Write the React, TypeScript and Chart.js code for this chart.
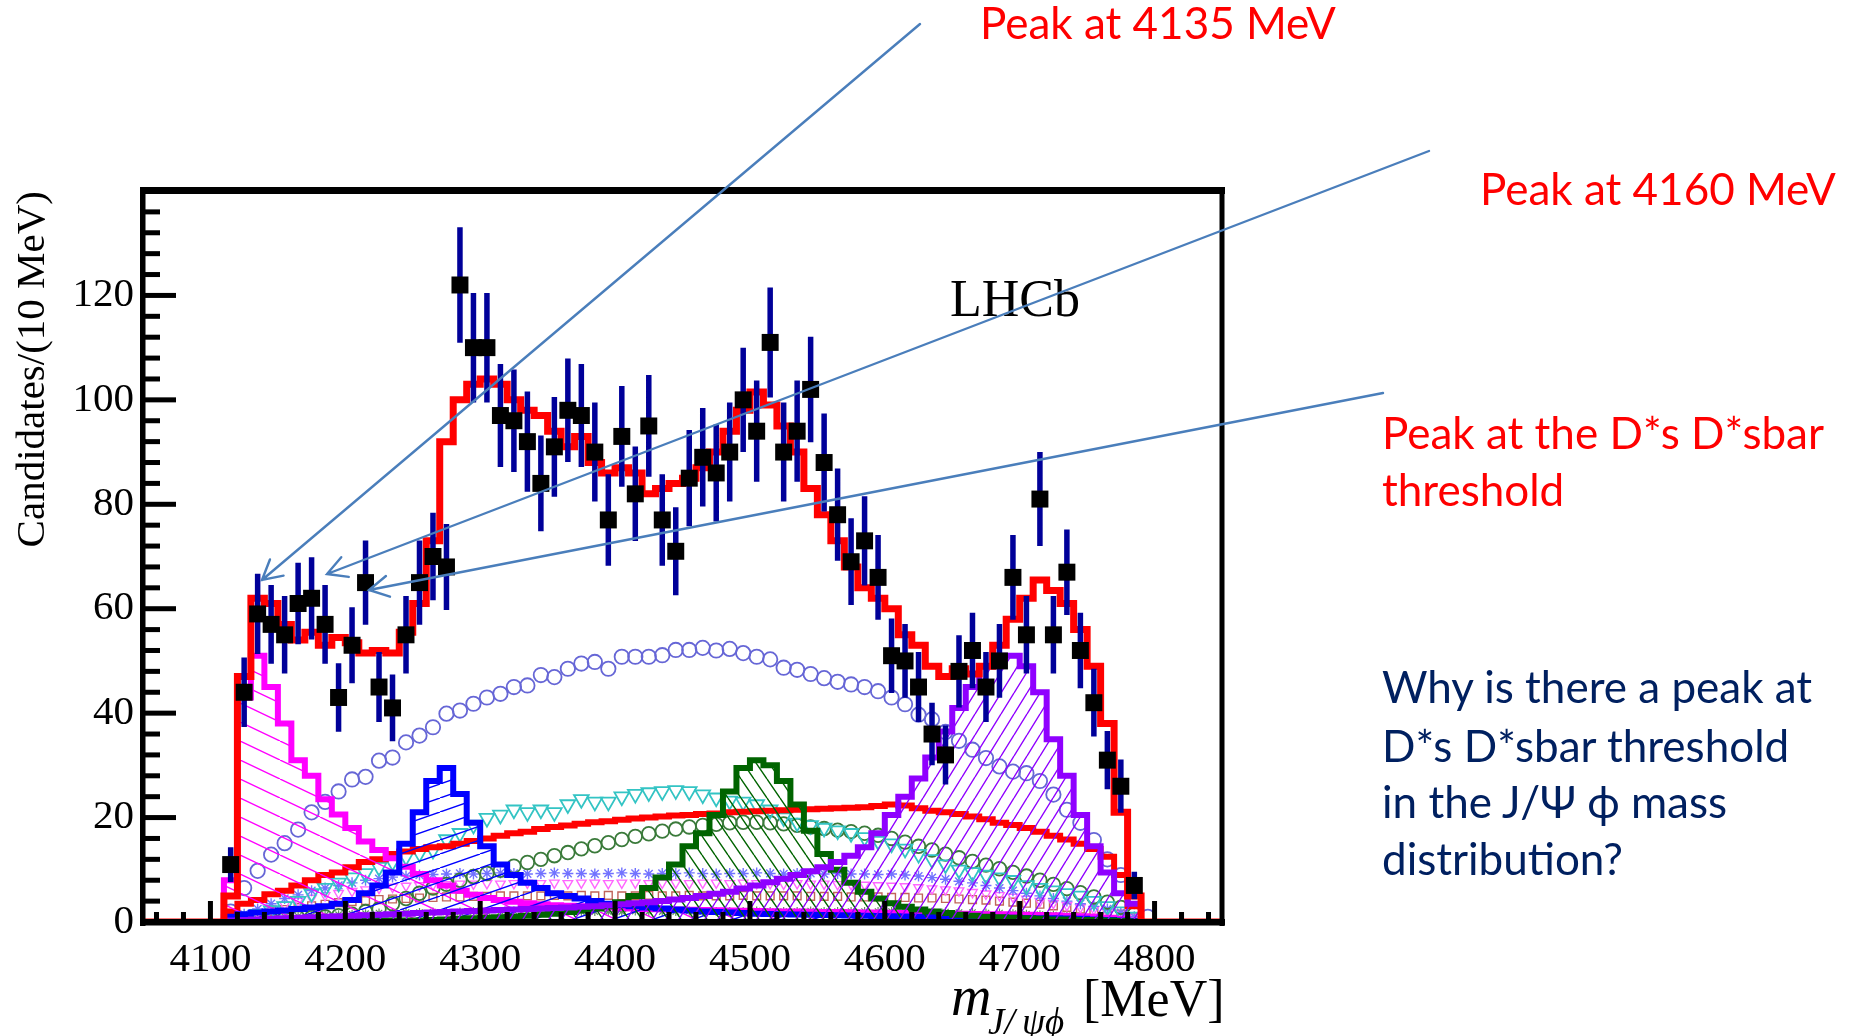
import React, { useEffect, useRef } from 'react';
import { Chart, registerables } from 'chart.js';

Chart.register(...registerables);

// ---------------- data (10 MeV bins) ----------------
const binCenters = [
  4105, 4115, 4125, 4135, 4145, 4155, 4165, 4175, 4185, 4195,
  4205, 4215, 4225, 4235, 4245, 4255, 4265, 4275, 4285, 4295,
  4305, 4315, 4325, 4335, 4345, 4355, 4365, 4375, 4385, 4395,
  4405, 4415, 4425, 4435, 4445, 4455, 4465, 4475, 4485, 4495,
  4505, 4515, 4525, 4535, 4545, 4555, 4565, 4575, 4585, 4595,
  4605, 4615, 4625, 4635, 4645, 4655, 4665, 4675, 4685, 4695,
  4705, 4715, 4725, 4735, 4745, 4755, 4765, 4775, 4785, 4795,
];

const dataCounts = [
  null, 11, 44, 59, 57, 55, 61, 62, 57, 43,
  53, 65, 45, 41, 55, 65, 70, 68, 122, 110,
  110, 97, 96, 92, 84, 91, 98, 97, 90, 77,
  93, 82, 95, 77, 71, 85, 89, 86, 90, 100,
  94, 111, 90, 94, 102, 88, 78, 69, 73, 66,
  51, 50, 45, 36, 32, 48, 52, 45, 50, 66,
  55, 81, 55, 67, 52, 42, 31, 26, 7, null,
];

const totalFit = [
  0, 5, 47, 62, 61, 57, 54, 55.5, 53, 54.5,
  53.5, 51.5, 52, 51.5, 55.5, 61, 73, 92, 100, 103,
  104, 103, 100, 98, 97, 94, 91, 93, 88, 86,
  87, 86, 82, 83, 84, 85, 87, 90, 94, 98,
  101.5, 99, 95, 90, 83, 78, 73, 68, 64, 62,
  60, 55, 53, 49, 47, 48.5, 47.5, 49, 53, 58,
  62, 65.5, 63.5, 61, 56, 49, 38, 21, 5, 0,
];

const x4140 = [
  0, 8, 43, 51, 45, 38, 31, 28, 23.5, 20.6,
  18, 15.4, 13.8, 12.2, 10.6, 9.2, 8, 7, 6, 5.2,
  4.6, 4.2, 3.9, 3.6, 3.4, 3.2, 3.1, 3, 2.9, 2.8,
  2.7, 2.6, 2.5, 2.45, 2.4, 2.35, 2.3, 2.25, 2.2, 2.15,
  2.1, 2.05, 2, 2, 1.95, 1.9, 1.9, 1.85, 1.8, 1.8,
  1.75, 1.7, 1.7, 1.65, 1.6, 1.6, 1.55, 1.5, 1.5, 1.45,
  1.4, 1.35, 1.3, 1.2, 1.1, 1, 0.8, 0.6, 0.3, 0,
];

const x4274 = [
  0, 1, 1.5, 1.8, 2, 2.2, 2.5, 2.8, 3, 3.5,
  4.2, 5.5, 7, 9.5, 15, 21, 27, 29.5, 24.5, 19,
  14.5, 11, 9, 7.5, 6.5, 5.5, 5, 4.5, 4, 3.5,
  3.2, 3, 2.8, 2.6, 2.4, 2.2, 2, 1.9, 1.8, 1.7,
  1.6, 1.55, 1.5, 1.45, 1.4, 1.35, 1.3, 1.25, 1.2, 1.15,
  1.1, 1.05, 1, 1, 0.95, 0.9, 0.9, 0.85, 0.8, 0.8,
  0.75, 0.7, 0.7, 0.65, 0.6, 0.5, 0.4, 0.3, 0.2, 0,
];

const x4500 = [
  0, 0.2, 0.2, 0.2, 0.2, 0.2, 0.2, 0.2, 0.2, 0.2,
  0.3, 0.3, 0.3, 0.3, 0.3, 0.3, 0.4, 0.5, 0.6, 0.7,
  0.8, 0.9, 1, 1.2, 1.4, 1.6, 1.9, 2.2, 2.6, 3,
  3.8, 5, 6.5, 8.5, 11, 14.5, 17, 20.5, 25, 29.5,
  31, 30, 27, 22.5, 17.5, 13, 10, 7.5, 5.8, 4.5,
  3.6, 2.9, 2.4, 2, 1.7, 1.4, 1.2, 1, 0.9, 0.8,
  0.7, 0.6, 0.5, 0.5, 0.4, 0.4, 0.3, 0.2, 0.1, 0,
];

const x4700 = [
  0, 0.3, 0.4, 0.5, 0.6, 0.7, 0.8, 0.9, 1, 1.1,
  1.2, 1.3, 1.4, 1.5, 1.6, 1.7, 1.8, 1.9, 2, 2.1,
  2.2, 2.3, 2.4, 2.5, 2.6, 2.7, 2.8, 2.9, 3, 3.2,
  3.4, 3.6, 3.8, 4, 4.3, 4.6, 5, 5.4, 5.8, 6.4,
  7, 7.6, 8.3, 9, 9.7, 10.5, 11.5, 12.7, 14.3, 17,
  20.5, 24, 27.5, 31.5, 36.5, 41, 45, 49, 51, 51,
  49, 44, 35, 28, 20.5, 14.5, 9.5, 5.5, 3.5, 0,
];

const redComponent = [
  0, 2, 3.5, 4.2, 5.3, 6, 7, 8, 9, 9.5,
  10.5, 11.5, 12, 13, 13.5, 14, 14.3, 14.5, 15, 15.5,
  16, 16.5, 17, 17.3, 17.8, 18.2, 18.5, 18.8, 19.1, 19.3,
  19.6, 19.8, 20, 20.2, 20.4, 20.5, 20.7, 20.8, 21, 21.1,
  21.2, 21.3, 21.4, 21.5, 21.6, 21.7, 21.8, 21.9, 22, 22.2,
  22.5, 22.3, 21.8, 21.3, 21, 20.7, 20.2, 19.7, 19, 18.6,
  18, 17.3, 16.5, 15.8, 15, 14, 12.5, 9, 3, 0,
];

const nonResonant = [
  null, 2, 6.5, 9.8, 12.9, 15.1, 17.7, 21, 23, 25,
  27.3, 27.8, 30.9, 31.5, 34.4, 35.7, 37.3, 39.9, 40.5, 41.8,
  43, 43.7, 45, 45.3, 47.3, 46.9, 48.5, 49.5, 49.8, 48.5,
  50.8, 50.8, 50.8, 51.1, 52.1, 52.1, 52.5, 52, 52.3, 51.5,
  50.8, 50.3, 48.7, 48.3, 47.5, 46.7, 46, 45.5, 45, 44.2,
  43, 41.7, 39.7, 38.8, 36.4, 34.7, 33, 31.4, 29.8, 28.8,
  28.5, 27, 24.4, 21.5, 19, 15.7, 12, 9, 4, 1,
];

const cyanTriangles = [
  null, 0.5, 1, 1.5, 2.2, 3, 4, 5.5, 6.5, 7.5,
  8.5, 9.3, 10.5, 11.5, 12.5, 13.2, 13.8, 15.8, 17, 18.6,
  19.9, 20.5, 21.5, 21, 21.5, 21, 22.5, 23.5, 23, 23,
  24, 24.5, 24.8, 25, 25.2, 25, 24.4, 23.8, 23.2, 23,
  22.5, 21.5, 20, 19, 18.5, 18, 17.5, 17, 16.2, 15.5,
  15, 14, 13, 12, 11, 10, 9.5, 9, 8.5, 8,
  7, 6.5, 6, 5.5, 5, 4, 3, 2, 1, null,
];

const greenCircles = [
  null, 0.3, 0.4, 0.5, 0.6, 0.7, 0.8, 0.9, 1, 1.2,
  1.5, 2, 2.5, 3.5, 4.5, 5.5, 6.5, 7.2, 8, 8.7,
  9.3, 9.9, 10.7, 11.4, 12, 12.7, 13.3, 14, 14.6, 15.2,
  15.8, 16.4, 16.9, 17.4, 17.8, 18.2, 18.5, 18.7, 19, 19.1,
  19.1, 19, 18.8, 18.5, 18.2, 17.9, 17.6, 17.3, 17, 16.6,
  16, 15.3, 14.5, 13.8, 13, 12.3, 11.6, 10.9, 10.2, 9.5,
  8.8, 8, 7.2, 6.4, 5.6, 4.8, 3.8, 2.8, 1.5, null,
];

const lilacStars = [
  null, 0.5, 1.5, 2.5, 3.5, 4.5, 5.2, 6, 6.5, 7,
  7.5, 8, 8.3, 8.6, 8.8, 9, 9.1, 9.2, 9.3, 9.2,
  9.3, 9.4, 9.3, 9.2, 9.3, 9.4, 9.3, 9.3, 9.2, 9.3,
  9.4, 9.3, 9.2, 9.3, 9.3, 9.4, 9.3, 9.2, 9.3, 9.3,
  9.4, 9.3, 9.2, 9.3, 9.3, 9.2, 9.3, 9.2, 9.2, 9.1,
  9.2, 9, 8.8, 8.5, 8.2, 7.8, 7.5, 7, 6.5, 6,
  5.5, 5, 4.5, 4, 3.5, 3, 2.5, 1.8, 1, null,
];

const pinkTriangles = [
  null, 0.4, 1, 1.8, 2.6, 3.3, 4, 4.6, 5.1, 5.5,
  5.9, 6.2, 6.5, 6.7, 6.9, 7, 7.1, 7.2, 7.3, 7.3,
  7.4, 7.3, 7.4, 7.5, 7.4, 7.5, 7.4, 7.5, 7.5, 7.4,
  7.5, 7.5, 7.4, 7.5, 7.5, 7.4, 7.5, 7.5, 7.4, 7.5,
  7.4, 7.4, 7.3, 7.4, 7.3, 7.3, 7.2, 7.2, 7.1, 7,
  6.9, 6.8, 6.6, 6.4, 6.2, 6, 5.7, 5.4, 5.1, 4.8,
  4.4, 4, 3.6, 3.2, 2.8, 2.4, 2, 1.5, 0.8, null,
];

const brownSquares = [
  null, 0.5, 1, 1.5, 2, 2.4, 2.8, 3.1, 3.4, 3.7,
  3.9, 4.1, 4.3, 4.4, 4.5, 4.6, 4.7, 4.8, 4.8, 4.9,
  4.9, 5, 5, 5, 5, 5.1, 5, 5.1, 5, 5.1,
  5, 5, 5.1, 5, 5, 5.1, 5, 5, 5, 5.1,
  5, 5, 5, 5, 4.9, 4.9, 4.9, 4.8, 4.8, 4.8,
  4.7, 4.7, 4.6, 4.6, 4.5, 4.4, 4.3, 4.2, 4, 3.8,
  3.6, 3.4, 3.1, 2.8, 2.5, 2.2, 1.9, 1.5, 0.8, null,
];

const greyGreenStars = [
  null, 0.2, 0.4, 0.6, 0.8, 1, 1.1, 1.2, 1.3, 1.4,
  1.5, 1.6, 1.7, 1.7, 1.8, 1.8, 1.9, 1.9, 1.9, 2,
  2, 2, 2.1, 2, 2, 2, 2.1, 2, 2, 2,
  2, 2.1, 2, 2, 2, 2.1, 2, 2, 2, 2,
  2.1, 2, 2, 2, 2.1, 2, 2, 2, 2, 2,
  2, 2, 1.9, 1.9, 1.9, 1.8, 1.8, 1.7, 1.7, 1.6,
  1.5, 1.4, 1.3, 1.2, 1, 0.8, 0.6, 0.4, 0.2, null,
];

const xTickValues = [4100, 4200, 4300, 4400, 4500, 4600, 4700, 4800];
const yTickValues = [0, 20, 40, 60, 80, 100, 120];

// ---------------- layout / style constants ----------------
const W = 1849;
const H = 1036;
const AREA = { left: 143, top: 191, right: 1222, bottom: 922 };
const X_MIN = 4050;
const X_MAX = 4850;
const Y_MAX = 140;
const BIN_WIDTH = 10;
const SERIF = '"Liberation Serif", "Times New Roman", serif';
const SLIDE_FONT = 'Lato, "Open Sans", sans-serif';
const ARROW_COLOR = '#4a7ebb';

const slideLines = [
  { text: 'Peak at 4135 MeV', left: 980, baseline: 39, color: '#ff0000' },
  { text: 'Peak at 4160 MeV', left: 1480, baseline: 205, color: '#ff0000' },
  { text: 'Peak at the D*s D*sbar', left: 1382, baseline: 449, color: '#ff0000' },
  { text: 'threshold', left: 1382, baseline: 506, color: '#ff0000' },
  { text: 'Why is there a peak at', left: 1382, baseline: 703, color: '#002060' },
  { text: 'D*s D*sbar threshold', left: 1382, baseline: 762, color: '#002060' },
  { text: 'in the J/\u03A8 \u03D5 mass', left: 1382, baseline: 818, color: '#002060' },
  { text: 'distribution?', left: 1382, baseline: 875, color: '#002060' },
];
const SLIDE_SIZE = 44;

const arrows = [
  { x1: 920, y1: 24, x2: 262, y2: 580 },
  { x1: 1429, y1: 151, x2: 327, y2: 574 },
  { x1: 1383, y1: 393, x2: 369, y2: 590 },
];

// ---------------- helpers ----------------
function stepPoints(values: number[], pad = false) {
  const pts = values.map((v, i) => ({ x: binCenters[i] - BIN_WIDTH / 2, y: v }));
  pts.push({ x: binCenters[binCenters.length - 1] + BIN_WIDTH / 2, y: 0 });
  if (pad) {
    pts.unshift({ x: X_MIN, y: 0 });
    pts.push({ x: X_MAX, y: 0 });
  }
  return pts;
}

function markerPoints(values: (number | null)[]) {
  return values.map((v, i) => ({ x: binCenters[i], y: v }));
}

function hatch(color: string, w: number, h: number, rising: boolean, lw = 1.4) {
  const c = document.createElement('canvas');
  c.width = w;
  c.height = h;
  const g = c.getContext('2d')!;
  g.strokeStyle = color;
  g.lineWidth = lw;
  g.beginPath();
  for (const dx of [-w, 0, w]) {
    if (rising) {
      g.moveTo(dx, h);
      g.lineTo(dx + w, 0);
    } else {
      g.moveTo(dx, 0);
      g.lineTo(dx + w, h);
    }
  }
  g.stroke();
  return g.createPattern(c, 'repeat')!;
}

function histDataset(label: string, values: number[], color: string, width: number, fillPattern: any, pad = false) {
  return {
    label,
    data: stepPoints(values, pad),
    borderColor: color,
    borderWidth: width,
    stepped: 'before',
    pointRadius: 0,
    fill: fillPattern ? 'origin' : false,
    backgroundColor: fillPattern || 'rgba(0,0,0,0)',
    borderJoinStyle: 'miter',
  };
}

function markerDataset(label: string, values: (number | null)[], color: string, style: string, radius: number, rotation = 0, lw = 1.6) {
  return {
    label,
    data: markerPoints(values),
    showLine: false,
    pointStyle: style,
    pointRadius: radius,
    pointRotation: rotation,
    pointBorderColor: color,
    pointBackgroundColor: 'rgba(0,0,0,0)',
    pointBorderWidth: lw,
    borderColor: color,
    backgroundColor: 'rgba(0,0,0,0)',
  };
}

const overlayPlugin = {
  id: 'overlay',
  beforeDatasetDraw(chart: any, args: any) {
    if (args.index !== 0) return;
    const { ctx, chartArea } = chart;
    const xs = chart.scales.x;
    const ys = chart.scales.y;
    ctx.save();
    ctx.beginPath();
    ctx.rect(chartArea.left, chartArea.top, chartArea.right - chartArea.left, chartArea.bottom - chartArea.top);
    ctx.clip();
    ctx.strokeStyle = '#000099';
    ctx.lineWidth = 5.5;
    ctx.beginPath();
    dataCounts.forEach((n, i) => {
      if (n == null) return;
      const e = Math.sqrt(n);
      const px = xs.getPixelForValue(binCenters[i]);
      ctx.moveTo(px, ys.getPixelForValue(n - e));
      ctx.lineTo(px, ys.getPixelForValue(n + e));
    });
    ctx.stroke();
    ctx.restore();
  },
  afterDatasetsDraw(chart: any) {
    const { ctx, chartArea } = chart;
    const xs = chart.scales.x;
    const ys = chart.scales.y;
    const { left, right, top, bottom } = chartArea;
    ctx.save();
    ctx.fillStyle = '#000';
    // x ticks (inside, pointing up)
    for (let m = X_MIN + 10; m < X_MAX; m += 20) {
      const major = xTickValues.includes(m);
      const len = major ? 21 : 10;
      const px = xs.getPixelForValue(m);
      ctx.fillRect(px - 2.5, bottom - len, 5, len);
    }
    // y ticks (inside, pointing right)
    for (let v = 4; v < Y_MAX; v += 4) {
      const major = v % 20 === 0;
      const len = major ? 33 : 17;
      const py = ys.getPixelForValue(v);
      ctx.fillRect(left, py - 2.5, len, 5);
    }
    // frame
    ctx.fillRect(left - 3, top - 4, right - left + 6, 7);
    ctx.fillRect(left - 3, top - 4, 5.5, bottom - top + 8);
    ctx.fillRect(right - 2.5, top - 4, 5, bottom - top + 8);
    ctx.fillRect(left - 3, bottom - 3, right - left + 6, 6.5);
    ctx.restore();
  },
  afterDraw(chart: any) {
    const { ctx } = chart;
    ctx.save();
    ctx.fillStyle = '#000';
    ctx.textBaseline = 'alphabetic';
    ctx.textAlign = 'left';
    ctx.font = `52px ${SERIF}`;
    ctx.fillText('LHCb', 950, 316);
    // x axis title
    ctx.font = `italic 56px ${SERIF}`;
    ctx.fillText('m', 951, 1015);
    ctx.font = `italic 37px ${SERIF}`;
    ctx.fillText('J/\u2009\u03C8\u03D5', 988, 1034);
    ctx.font = `52px ${SERIF}`;
    ctx.fillText('[MeV]', 1083, 1016);
    // arrows
    ctx.strokeStyle = ARROW_COLOR;
    ctx.lineWidth = 2.4;
    ctx.lineCap = 'round';
    for (const a of arrows) {
      ctx.beginPath();
      ctx.moveTo(a.x1, a.y1);
      ctx.lineTo(a.x2, a.y2);
      const ang = Math.atan2(a.y1 - a.y2, a.x1 - a.x2);
      const hl = 22;
      const spread = 0.5;
      ctx.moveTo(a.x2 + hl * Math.cos(ang + spread), a.y2 + hl * Math.sin(ang + spread));
      ctx.lineTo(a.x2, a.y2);
      ctx.lineTo(a.x2 + hl * Math.cos(ang - spread), a.y2 + hl * Math.sin(ang - spread));
      ctx.stroke();
    }
    ctx.restore();
  },
};

export default function App() {
  const canvasRef = useRef<HTMLCanvasElement>(null);

  useEffect(() => {
    const canvas = canvasRef.current;
    if (!canvas) return;

    const magentaHatch = hatch('#ff00ff', 40, 19, false);
    const blueHatch = hatch('#0000ff', 40, 14, true);
    const greenHatch = hatch('#006400', 13, 19, false);
    const purpleHatch = hatch('#8f00ff', 13, 21, true);

    const datasets: any[] = [
      {
        label: 'Data',
        data: markerPoints(dataCounts),
        showLine: false,
        pointStyle: 'rect',
        pointRadius: 12,
        pointBackgroundColor: '#000',
        pointBorderWidth: 0,
        pointBorderColor: '#000',
        borderColor: '#000',
        backgroundColor: '#000',
      },
      histDataset('Total fit', totalFit, '#ff0000', 7, null, true),
      histDataset('X(4700)', x4700, '#8f00ff', 6, purpleHatch),
      histDataset('X(4500)', x4500, '#006400', 6, greenHatch),
      histDataset('X(4274)', x4274, '#0000ff', 6, blueHatch),
      histDataset('X(4140)', x4140, '#ff00ff', 6, magentaHatch),
      histDataset('Component', redComponent, '#ff0000', 6, null),
      markerDataset('NR', nonResonant, '#6666d6', 'circle', 7.2, 0, 1.8),
      markerDataset('Cyan', cyanTriangles, '#33c4c4', 'triangle', 8.5, 180, 1.8),
      markerDataset('Green circles', greenCircles, '#3a7a3a', 'circle', 6.8, 0, 1.8),
      markerDataset('Lilac', lilacStars, '#7272ff', 'star', 5.5, 0, 1.4),
      markerDataset('Pink', pinkTriangles, '#ff66ff', 'triangle', 5.5, 180, 1.4),
      markerDataset('Brown', brownSquares, '#c0645a', 'rect', 5.5, 0, 1.4),
      markerDataset('GreyGreen', greyGreenStars, '#5f8f5f', 'star', 4.5, 0, 1.2),
    ];

    const chart = new Chart(canvas, {
      type: 'line',
      data: { datasets },
      options: {
        animation: false,
        responsive: false,
        devicePixelRatio: 1,
        events: [],
        layout: { padding: { left: 0, top: AREA.top, right: W - AREA.right, bottom: 0 } },
        plugins: { legend: { display: false }, tooltip: { enabled: false } },
        scales: {
          x: {
            type: 'linear',
            min: X_MIN,
            max: X_MAX,
            grid: { display: false, drawTicks: false },
            border: { display: false },
            afterBuildTicks: (s: any) => {
              s.ticks = xTickValues.map((v) => ({ value: v }));
            },
            ticks: {
              autoSkip: false,
              maxRotation: 0,
              padding: 14,
              color: '#000',
              font: { family: SERIF, size: 41 },
              callback: (v: any) => String(v),
            },
            afterFit: (s: any) => {
              s.height = H - AREA.bottom;
            },
          },
          y: {
            type: 'linear',
            min: 0,
            max: Y_MAX,
            grid: { display: false, drawTicks: false },
            border: { display: false },
            afterBuildTicks: (s: any) => {
              s.ticks = yTickValues.map((v) => ({ value: v }));
            },
            ticks: {
              padding: 9,
              color: '#000',
              font: { family: SERIF, size: 41 },
              callback: (v: any) => String(v),
            },
            title: {
              display: true,
              text: 'Candidates/(10 MeV)',
              align: 'end',
              color: '#000',
              font: { family: SERIF, size: 41 },
              padding: { top: 9, bottom: 0 },
            },
            afterFit: (s: any) => {
              s.width = AREA.left;
            },
          },
        },
      } as any,
      plugins: [overlayPlugin as any],
    });

    return () => chart.destroy();
  }, []);

  return (
    <div
      style={{
        position: 'absolute',
        left: 0,
        top: 0,
        width: W,
        height: H,
        overflow: 'hidden',
        background: '#fff',
      }}
    >
      <canvas
        ref={canvasRef}
        width={W}
        height={H}
        style={{ position: 'absolute', left: 0, top: 0, width: W, height: H }}
      />
      {slideLines.map((l, i) => (
        <div
          key={i}
          style={{
            position: 'absolute',
            left: l.left,
            top: l.baseline - SLIDE_SIZE * 0.887,
            fontFamily: SLIDE_FONT,
            fontSize: SLIDE_SIZE,
            lineHeight: `${SLIDE_SIZE}px`,
            color: l.color,
            whiteSpace: 'pre',
          }}
        >
          {l.text}
        </div>
      ))}
    </div>
  );
}
